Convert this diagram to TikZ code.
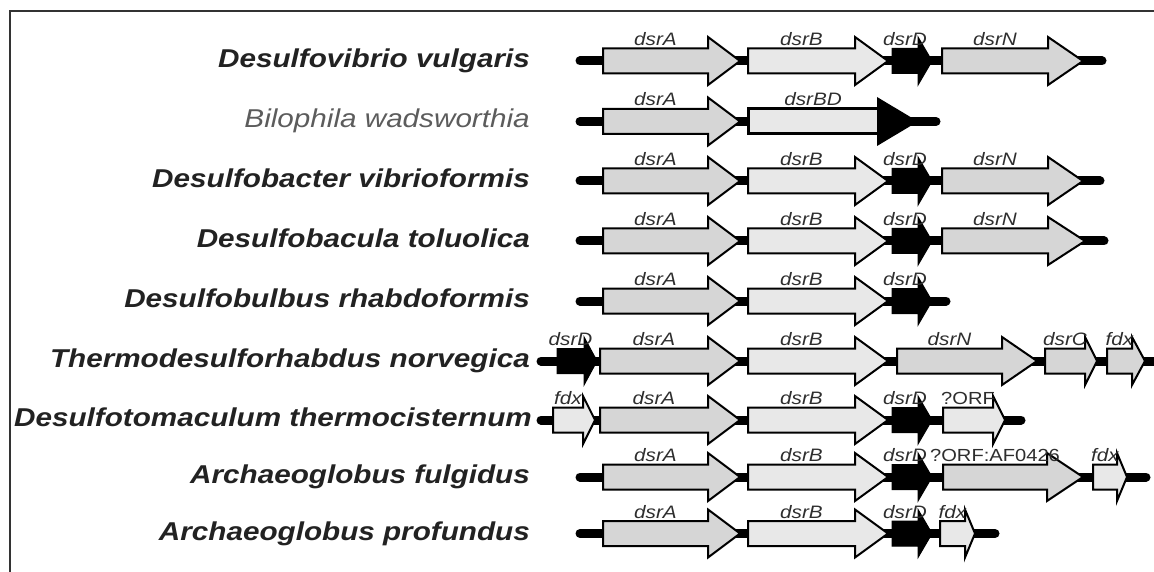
\documentclass[tikz,border=0pt]{standalone}
\usepackage{fontspec}
\newfontfamily\spfont[FakeStretch=1.15]{Liberation Sans}
\newfontfamily\lbfont[FakeStretch=1.15]{Liberation Sans}
\definecolor{fillA}{HTML}{D6D6D6}
\definecolor{fillB}{HTML}{E8E8E8}
\definecolor{txt}{HTML}{222222}
\definecolor{lbl}{HTML}{2E2E2E}
\definecolor{frm}{HTML}{333333}
\tikzset{
  chrom/.style={line width=9pt, line cap=round, black},
  geneA/.style={draw=black, line width=2pt, fill=fillA, line join=miter},
  geneB/.style={draw=black, line width=2pt, fill=fillB, line join=miter},
  geneK/.style={draw=black, line width=1pt, fill=black},
  glabel/.style={anchor=base, inner sep=0pt, text=lbl, font=\lbfont\itshape\fontsize{18}{21}\selectfont},
  olabel/.style={anchor=base, inner sep=0pt, text=lbl, font=\lbfont\fontsize{17.5}{21}\selectfont},
  spname/.style={anchor=base east, inner sep=0pt, text=txt, font=\spfont\bfseries\itshape\fontsize{25.8}{30}\selectfont},
  spthin/.style={anchor=base east, inner sep=0pt, text=black!64, font=\spfont\itshape\fontsize{25.8}{30}\selectfont},
  frame/.style={line width=2.5pt, frm}
}
% #1 name, #2 y, #3 x0, #4 head start, #5 tip, #6 style, #7 label, #8 label style
\newcommand\gene[8]{%
  \draw[#6] (#3,#2-12.5) -- (#4,#2-12.5) -- (#4,#2-24) -- (#5,#2) -- (#4,#2+24) -- (#4,#2+12.5) -- (#3,#2+12.5) -- cycle;
  \node[#8] (#1) at ({(#3+#4)/2},#2-15.5) {#7};
}
\newcommand\stdrow[2]{% #1 row id, #2 y
  \gene{#1a}{#2}{603}{708}{740}{geneA}{dsrA}{glabel}
  \gene{#1b}{#2}{748}{855}{888}{geneB}{dsrB}{glabel}
}
\begin{document}
\begin{tikzpicture}[x=1pt,y=-1pt]
\useasboundingbox (0,0) rectangle (1154,572);
\draw[frame] (10,575) -- (10,11) -- (1160,11);

% species names
\node[spname] (s1) at (530,67.5) {Desulfovibrio vulgaris};
\node[spthin] (s2) at (530,128) {Bilophila wadsworthia};
\node[spname] (s3) at (530,187.5) {Desulfobacter vibrioformis};
\node[spname] (s4) at (530,247.5) {Desulfobacula toluolica};
\node[spname] (s5) at (530,307.5) {Desulfobulbus rhabdoformis};
\node[spname] (s6) at (530,367.5) {Thermodesulforhabdus norvegica};
\node[spname] (s7) at (532,426.5) {Desulfotomaculum thermocisternum};
\node[spname] (s8) at (530,483.5) {Archaeoglobus fulgidus};
\node[spname] (s9) at (530,540) {Archaeoglobus profundus};

% chromosome lines
\coordinate (c1a) at (580,61);    \coordinate (c1b) at (1102,61);
\coordinate (c2a) at (580,121.5); \coordinate (c2b) at (936,121.5);
\coordinate (c3a) at (580,181);   \coordinate (c3b) at (1100,181);
\coordinate (c4a) at (580,241);   \coordinate (c4b) at (1104,241);
\coordinate (c5a) at (580,301);   \coordinate (c5b) at (946,301);
\coordinate (c6a) at (541,361);   \coordinate (c6b) at (1160,361);
\coordinate (c7a) at (541,420);   \coordinate (c7b) at (1021,420);
\coordinate (c8a) at (580,477);   \coordinate (c8b) at (1146,477);
\coordinate (c9a) at (580,533.5); \coordinate (c9b) at (995,533.5);
\foreach \r in {1,...,9} {\draw[chrom] (c\r a) -- (c\r b);}

% row 1
\stdrow{g1}{61}
\gene{g1d}{61}{892}{918}{932}{geneK}{dsrD}{glabel}
\gene{g1n}{61}{942}{1048}{1083}{geneA}{dsrN}{glabel}
% row 2
\gene{g2a}{121.5}{603}{708}{740}{geneA}{dsrA}{glabel}
\draw[black, line width=3pt, fill=fillB] (748,109) rectangle (878,134);
\fill[black] (877,97) -- (918,121.5) -- (877,146) -- cycle;
\node[glabel] (g2b) at (813,106) {dsrBD};
% row 3
\stdrow{g3}{181}
\gene{g3d}{181}{892}{918}{932}{geneK}{dsrD}{glabel}
\gene{g3n}{181}{942}{1048}{1083}{geneA}{dsrN}{glabel}
% row 4
\stdrow{g4}{241}
\gene{g4d}{241}{892}{918}{932}{geneK}{dsrD}{glabel}
\gene{g4n}{241}{942}{1048}{1085}{geneA}{dsrN}{glabel}
% row 5
\stdrow{g5}{301}
\gene{g5d}{301}{892}{918}{932}{geneK}{dsrD}{glabel}
% row 6
\gene{g6d}{361}{557}{584}{597}{geneK}{dsrD}{glabel}
\gene{g6a}{361}{600}{708}{740}{geneA}{dsrA}{glabel}
\gene{g6b}{361}{748}{855}{888}{geneB}{dsrB}{glabel}
\gene{g6n}{361}{897}{1002}{1037}{geneA}{dsrN}{glabel}
\gene{g6c}{361}{1045}{1085}{1097}{geneA}{dsrC}{glabel}
\gene{g6f}{361}{1107}{1132}{1145}{geneA}{fdx}{glabel}
% row 7
\gene{g7f}{420}{553}{583}{595}{geneB}{fdx}{glabel}
\gene{g7a}{420}{600}{708}{740}{geneA}{dsrA}{glabel}
\gene{g7b}{420}{748}{855}{888}{geneB}{dsrB}{glabel}
\gene{g7d}{420}{892}{918}{932}{geneK}{dsrD}{glabel}
\gene{g7o}{420}{943}{993}{1005}{geneB}{?ORF}{olabel}
% row 8
\stdrow{g8}{477}
\gene{g8d}{477}{892}{918}{932}{geneK}{dsrD}{glabel}
\gene{g8o}{477}{943}{1047}{1083}{geneA}{?ORF:AF0426}{olabel}
\gene{g8f}{477}{1093}{1117}{1127}{geneB}{fdx}{glabel}
% row 9
\stdrow{g9}{533.5}
\gene{g9d}{533.5}{892}{918}{932}{geneK}{dsrD}{glabel}
\gene{g9f}{533.5}{940}{965}{975}{geneB}{fdx}{glabel}
\end{tikzpicture}
\end{document}
